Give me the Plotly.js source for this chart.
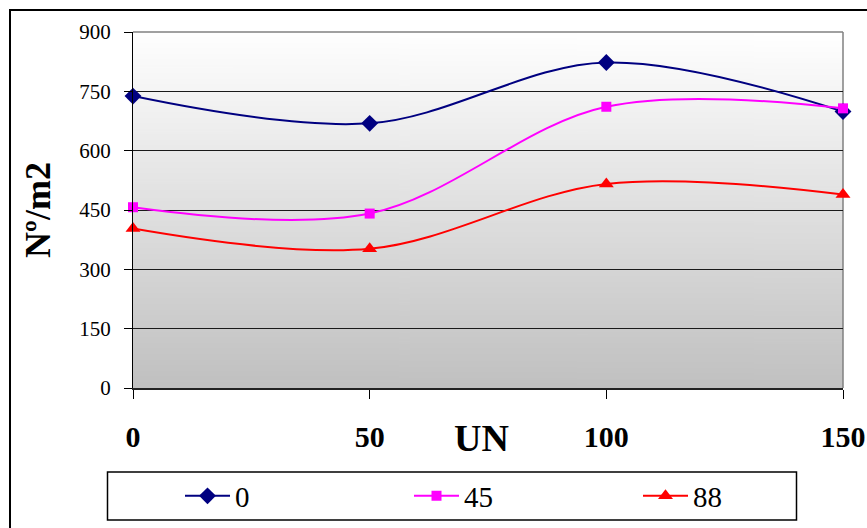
<!DOCTYPE html>
<html>
<head>
<meta charset="utf-8">
<script src="https://cdn.plot.ly/plotly-3.0.1.min.js"></script>
<style>
  html, body { margin: 0; padding: 0; background: #ffffff; }
  #wrap { position: relative; width: 867px; height: 528px; overflow: hidden; }
  #chart { position: absolute; left: 0; top: 0; width: 867px; height: 528px; }
  #frame { position: absolute; left: 9px; top: 9px; width: 900px; height: 600px;
           border: 2px solid #000; pointer-events: none; }
</style>
</head>
<body>
<div id="wrap">
  <div id="chart"></div>
  <div id="frame"></div>
</div>
<script>
// ---- data ----
const xValues = [0, 50, 100, 150];
const seriesNames = ["0", "45", "88"];
const series0 = [738, 669, 823, 699];
const series45 = [457, 441, 711, 707];
const series88 = [403, 352, 516, 489];
const yTicks = [0, 150, 300, 450, 600, 750, 900];
const xTicks = [0, 50, 100, 150];
const xTitle = "UN";
const yTitle = "Nº/m2";

// gradient background image for the plot area
function gradientURL() {
  const c = document.createElement('canvas');
  c.width = 4; c.height = 256;
  const g = c.getContext('2d');
  const grd = g.createLinearGradient(0, 0, 0, 256);
  grd.addColorStop(0, '#ffffff');
  grd.addColorStop(1, '#c0c0c0');
  g.fillStyle = grd;
  g.fillRect(0, 0, 4, 256);
  return c.toDataURL('image/png');
}

const serif = "Liberation Serif";

const traces = [
  { x: xValues, y: series0, name: seriesNames[0], type: 'scatter', mode: 'lines+markers',
    line: { color: '#000080', width: 2, shape: 'spline', smoothing: 1 },
    marker: { symbol: 'diamond', size: 13, color: '#000080' }, cliponaxis: false },
  { x: xValues, y: series45, name: seriesNames[1], type: 'scatter', mode: 'lines+markers',
    line: { color: '#ff00ff', width: 2, shape: 'spline', smoothing: 1 },
    marker: { symbol: 'square', size: 10, color: '#ff00ff' }, cliponaxis: false },
  { x: xValues, y: series88, name: seriesNames[2], type: 'scatter', mode: 'lines+markers',
    line: { color: '#ff0000', width: 2, shape: 'spline', smoothing: 1 },
    marker: { symbol: 'triangle-up', size: 13, color: '#ff0000' }, cliponaxis: false }
];

const layout = {
  width: 867, height: 528,
  margin: { l: 133, r: 24, t: 32, b: 140, autoexpand: false },
  paper_bgcolor: 'rgba(0,0,0,0)',
  plot_bgcolor: 'rgba(0,0,0,0)',
  font: { family: serif, color: '#000' },
  showlegend: true,
  xaxis: {
    range: [0, 150], tickvals: xTicks, ticktext: xTicks.map(String),
    ticks: 'outside', ticklen: 9, tickcolor: '#000', tickwidth: 1,
    showline: true, linecolor: '#222', linewidth: 1.5,
    showgrid: false, zeroline: false,
    tickfont: { family: serif, size: 30, weight: 'bold', color: '#000' },
    ticklabelstandoff: 12,
    fixedrange: true
  },
  yaxis: {
    range: [0, 900], tickvals: yTicks,
    ticks: 'outside', ticklen: 8, tickcolor: '#000', tickwidth: 1,
    showline: true, linecolor: '#000', linewidth: 1,
    showgrid: true, gridcolor: '#1a1a1a', gridwidth: 1, zeroline: false,
    tickfont: { family: serif, size: 21, color: '#000' },
    ticklabelstandoff: 9,
    title: { text: yTitle, font: { family: serif, size: 36, weight: 'bold', color: '#000' }, standoff: 17 },
    fixedrange: true
  },
  legend: {
    orientation: 'h', xref: 'container', yref: 'container',
    x: 180 / 867, xanchor: 'left', y: 1 - 496 / 528, yanchor: 'middle',
    borderwidth: 0, bgcolor: 'rgba(0,0,0,0)',
    font: { family: serif, size: 29, color: '#000' },
    itemwidth: 45,
    entrywidth: 169, entrywidthmode: 'pixels',
    traceorder: 'normal'
  },
  annotations: [{
    text: xTitle, xref: 'paper', yref: 'paper', x: (481 - 133) / 710, y: (388 - 438) / 356,
    xanchor: 'center', yanchor: 'middle', showarrow: false,
    font: { family: serif, size: 38, weight: 'bold', color: '#000' }
  }],
  images: [{
    source: gradientURL(), xref: 'paper', yref: 'paper', x: 0, y: 1, sizex: 1, sizey: 1,
    sizing: 'stretch', xanchor: 'left', yanchor: 'top', layer: 'below'
  }],
  shapes: [
    { type: 'line', xref: 'paper', yref: 'paper', x0: 0, x1: 1, y0: 1, y1: 1,
      line: { color: '#808080', width: 1.5 }, layer: 'above' },
    { type: 'line', xref: 'paper', yref: 'paper', x0: 1, x1: 1, y0: 0, y1: 1,
      line: { color: '#808080', width: 1.5 }, layer: 'below' },
    { type: 'rect', xref: 'paper', yref: 'paper',
      x0: (107.5 - 133) / 710, x1: (796.5 - 133) / 710,
      y0: (388 - 520) / 356, y1: (388 - 472) / 356,
      line: { color: '#000', width: 1.5 }, fillcolor: 'rgba(0,0,0,0)', layer: 'above' }
  ]
};

Plotly.newPlot('chart', traces, layout, { staticPlot: true, displayModeBar: false });
</script>
</body>
</html>
